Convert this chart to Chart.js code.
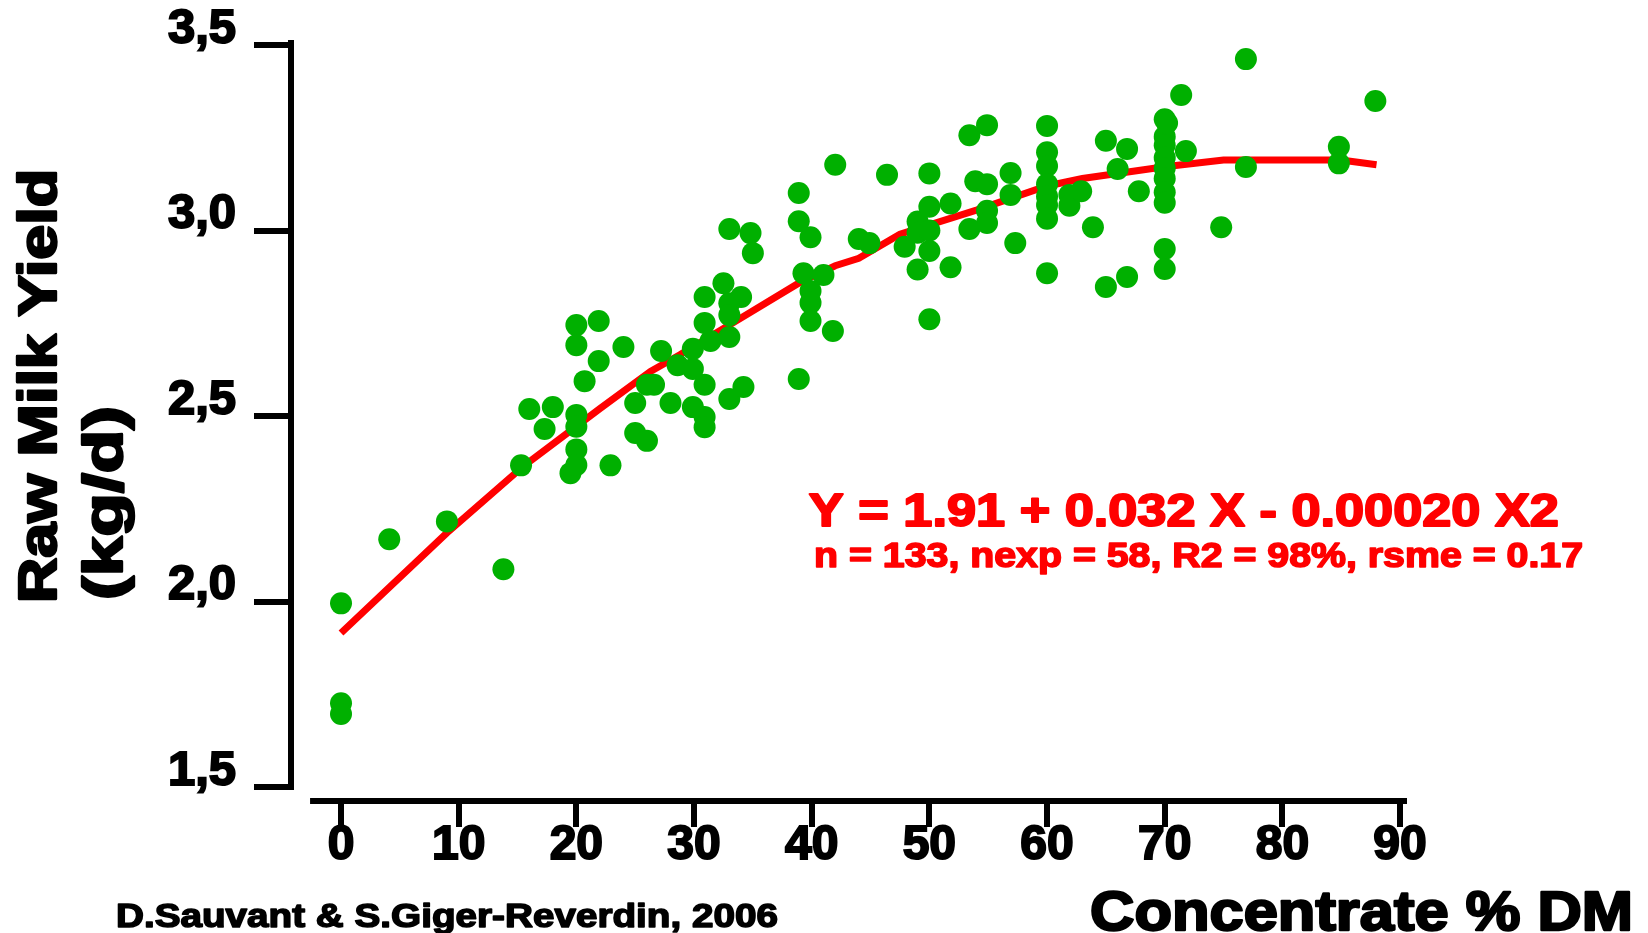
<!DOCTYPE html>
<html>
<head>
<meta charset="utf-8">
<title>Raw Milk Yield vs Concentrate</title>
<script src="https://cdn.jsdelivr.net/npm/chart.js@4.4.1/dist/chart.umd.min.js"></script>
<style>
    html, body { margin: 0; padding: 0; background: #fff; }
    #wrap { width: 1648px; height: 933px; position: relative; }
</style>
</head>
<body>
<div id="wrap"><canvas id="chart"></canvas></div>
<script>
// observed points (concentrate % DM, raw milk yield kg/d)
const concentrate = [
    0, 0, 0, 4.1, 9.0, 13.8, 15.3, 16.0, 17.3, 18.0, 19.5,
    20, 20, 20, 20, 20, 20, 20.7, 21.9, 21.9, 22.9, 24.0,
    25.0, 25.0, 26.0, 26.0, 26.6, 27.2, 28.0, 28.6, 29.9, 29.9, 29.9,
    30.9, 30.9, 30.9, 30.9, 30.9, 31.4, 32.5, 33, 33, 33, 33, 33,
    34.0, 34.2, 34.8, 35.0, 38.9, 38.9, 38.9, 39.3, 39.9, 39.9, 39.9, 39.9,
    41.0, 41.8, 42.0, 44.0, 44.9, 46.4, 47.9, 49, 49, 49,
    50, 50, 50, 50, 50, 51.8, 51.8, 53.4, 53.4, 53.9, 54.9, 54.9, 54.9, 54.9,
    56.9, 56.9, 57.3, 60, 60, 60, 60, 60, 60, 60, 60,
    61.9, 61.9, 62.9, 63.9, 65.0, 65.0, 66.0, 66.8, 66.8, 67.8,
    70, 70, 70, 70, 70, 70, 70, 70, 70, 70, 70.2,
    71.4, 71.8, 74.8, 76.9, 76.9, 84.8, 84.8, 87.9
];
const milkYield = [
    1.995, 1.726, 1.697, 2.168, 2.216, 2.087, 2.367, 2.519, 2.465, 2.524, 2.346,
    2.745, 2.691, 2.503, 2.471, 2.410, 2.368, 2.594, 2.756, 2.648, 2.367, 2.686,
    2.535, 2.454, 2.433, 2.584, 2.584, 2.675, 2.535, 2.637, 2.681, 2.627, 2.524,
    2.821, 2.751, 2.584, 2.497, 2.470, 2.702, 2.858, 3.004, 2.804, 2.772, 2.713, 2.546,
    2.821, 2.578, 2.993, 2.939, 3.101, 3.025, 2.600, 2.885, 2.982, 2.837, 2.805, 2.756,
    2.880, 2.729, 3.177, 2.977, 2.966, 3.150, 2.956, 3.024, 2.994, 2.895,
    3.154, 3.064, 3.000, 2.945, 2.761, 3.073, 2.901, 3.257, 3.004, 3.133, 3.284, 3.125, 3.053, 3.020,
    3.155, 3.096, 2.966, 3.282, 3.211, 3.174, 3.125, 3.092, 3.069, 3.032, 2.885,
    3.096, 3.067, 3.106, 3.009, 3.242, 2.848, 3.166, 3.220, 2.875, 3.106,
    3.300, 3.253, 3.230, 3.196, 3.168, 3.140, 3.103, 3.075, 2.950, 2.896, 3.290,
    3.365, 3.214, 3.009, 3.462, 3.171, 3.226, 3.181, 3.349
];

// fitted curve as drawn
const fitConcentrate = [0, 9, 15.5, 22, 26.3, 28.8, 34.8, 39, 42, 44, 47.5, 54, 60, 63, 70, 75, 85, 88];
const fitYield = [1.915, 2.185, 2.365, 2.52, 2.62, 2.665, 2.78, 2.86, 2.905, 2.925, 2.99, 3.055, 3.12, 3.14, 3.172, 3.19, 3.19, 3.177];

const xTickValues = [0, 10, 20, 30, 40, 50, 60, 70, 80, 90];
const yTickValues = [1.5, 2.0, 2.5, 3.0, 3.5];

const equationText = 'Y = 1.91 + 0.032 X - 0.00020 X2';
const statsText = 'n = 133, nexp = 58, R2 = 98%, rsme = 0.17';
const xTitle = 'Concentrate % DM';
const yTitle = ['Raw Milk Yield', '(kg/d)'];
const creditText = 'D.Sauvant & S.Giger-Reverdin, 2006';

const FONT = '"Liberation Sans", Arial, sans-serif';
const GREEN = '#00b000';
const RED = '#ff0000';

// draws heavy bold text stretched to a given width
function fitText(ctx, text, size, width, color, stroke) {
    ctx.font = `bold ${size}px ${FONT}`;
    const w = ctx.measureText(text).width;
    ctx.save();
    ctx.scale(width / w, 1);
    ctx.fillStyle = color;
    ctx.strokeStyle = color;
    ctx.lineWidth = stroke;
    ctx.lineJoin = 'round';
    ctx.textAlign = 'left';
    ctx.textBaseline = 'alphabetic';
    ctx.fillText(text, 0, 0);
    ctx.strokeText(text, 0, 0);
    ctx.restore();
}

const decorations = {
    id: 'decorations',
    afterDraw(chart) {
        const { ctx, chartArea, scales: { x, y } } = chart;
        ctx.save();

        // separated axis lines
        ctx.strokeStyle = '#000';
        ctx.lineWidth = 6;
        ctx.beginPath();
        ctx.moveTo(chartArea.left, chartArea.top);
        ctx.lineTo(chartArea.left, y.getPixelForValue(1.5) + 3);
        ctx.moveTo(x.getPixelForValue(-2.63), chartArea.bottom);
        ctx.lineTo(chartArea.right, chartArea.bottom);
        ctx.stroke();

        // regression equation
        ctx.save();
        ctx.translate(x.getPixelForValue(39.76), y.getPixelForValue(2.2035));
        fitText(ctx, equationText, 46, 750, RED, 2);
        ctx.restore();
        ctx.save();
        ctx.translate(x.getPixelForValue(40.2), y.getPixelForValue(2.093));
        fitText(ctx, statsText, 35, 769, RED, 1.6);
        ctx.restore();

        // x title
        ctx.save();
        ctx.translate(1090, 930);
        fitText(ctx, xTitle, 56, 543, '#000', 2.4);
        ctx.restore();

        // y title, two lines
        ctx.save();
        ctx.translate(56, 603);
        ctx.rotate(-Math.PI / 2);
        fitText(ctx, yTitle[0], 54, 434, '#000', 2.4);
        ctx.restore();
        ctx.save();
        ctx.translate(122, 600);
        ctx.rotate(-Math.PI / 2);
        fitText(ctx, yTitle[1], 55, 194, '#000', 2.4);
        ctx.restore();

        // credit
        ctx.save();
        ctx.translate(116, 927);
        fitText(ctx, creditText, 33, 662, '#000', 1.5);
        ctx.restore();

        ctx.restore();
    }
};

const ctx = document.getElementById('chart').getContext('2d');
new Chart(ctx, {
    data: {
        datasets: [{
            type: 'scatter',
            label: 'Observed',
            data: concentrate.map((c, i) => ({ x: c, y: milkYield[i] })),
            backgroundColor: GREEN,
            borderWidth: 0,
            pointRadius: 11,
            pointHoverRadius: 11,
            clip: false,
            order: 0
        }, {
            type: 'line',
            label: 'Fit',
            data: fitConcentrate.map((c, i) => ({ x: c, y: fitYield[i] })),
            borderColor: RED,
            borderWidth: 7,
            pointRadius: 0,
            tension: 0,
            fill: false,
            order: 1
        }]
    },
    options: {
        responsive: true,
        maintainAspectRatio: false,
        animation: false,
        events: [],
        layout: { padding: { top: 40, right: 241, bottom: 0, left: 0 } },
        plugins: {
            legend: { display: false },
            tooltip: { enabled: false }
        },
        scales: {
            x: {
                type: 'linear',
                min: -4.25,
                max: 90.59,
                afterBuildTicks: scale => { scale.ticks = xTickValues.map(v => ({ value: v })); },
                afterFit: scale => {
                    scale.height = 132;
                    scale.paddingLeft = 0;
                    scale.paddingRight = 0;
                },
                border: { display: false },
                grid: { drawOnChartArea: false, drawTicks: true, tickLength: 26, lineWidth: 6, color: '#000' },
                ticks: {
                    autoSkip: false,
                    maxRotation: 0,
                    padding: -10,
                    color: '#000',
                    textStrokeColor: '#000',
                    textStrokeWidth: 2,
                    font: { family: FONT, weight: 'bold', size: 48 }
                }
            },
            y: {
                type: 'linear',
                min: 1.4623,
                max: 3.5135,
                afterBuildTicks: scale => { scale.ticks = yTickValues.map(v => ({ value: v })); },
                afterFit: scale => {
                    scale.width = 291;
                    scale.paddingTop = 0;
                    scale.paddingBottom = 0;
                },
                border: { display: false },
                grid: { drawOnChartArea: false, drawTicks: true, tickLength: 37, lineWidth: 6, color: '#000' },
                ticks: {
                    padding: 18,
                    labelOffset: -16,
                    color: '#000',
                    textStrokeColor: '#000',
                    textStrokeWidth: 2,
                    font: { family: FONT, weight: 'bold', size: 49 },
                    callback: v => v.toFixed(1).replace('.', ',')
                }
            }
        }
    },
    plugins: [decorations]
});
</script>
</body>
</html>
